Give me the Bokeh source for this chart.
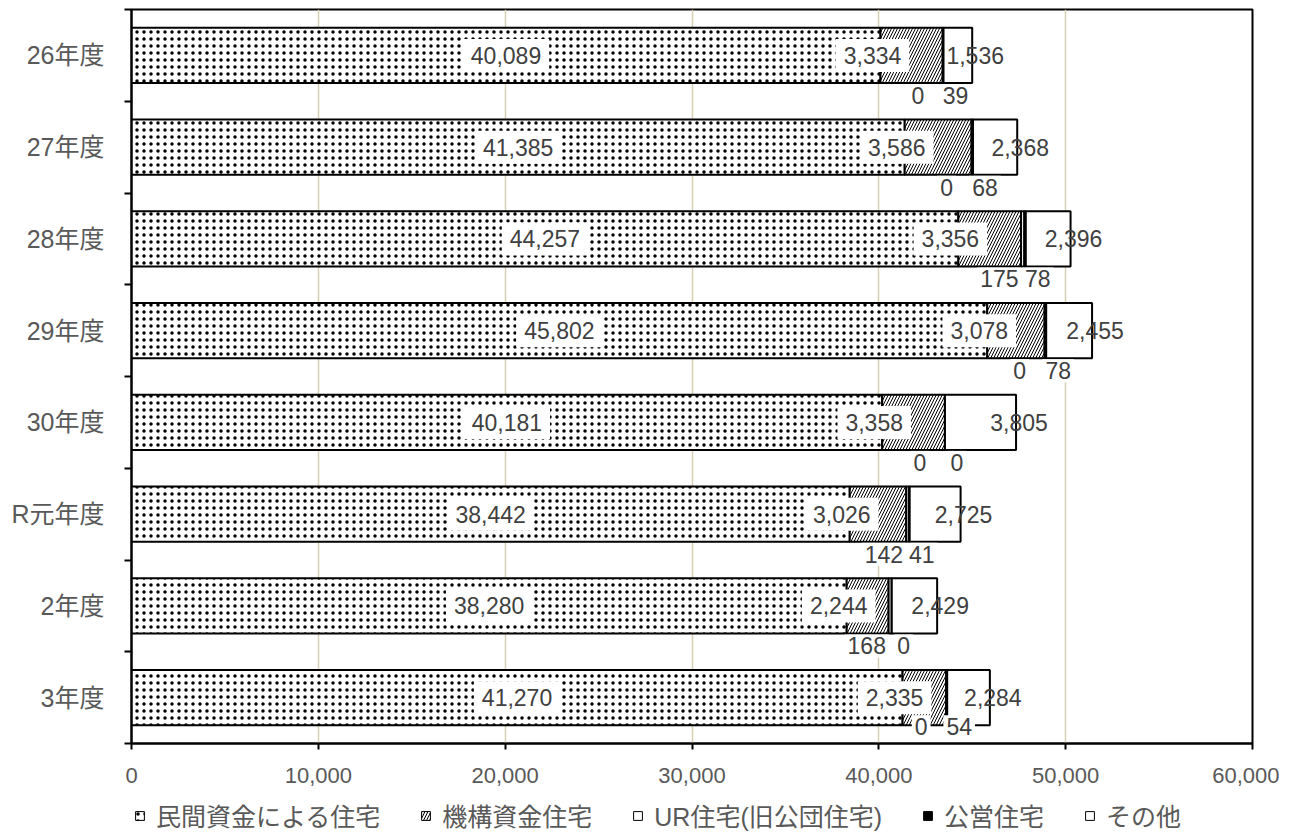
from bokeh.plotting import figure
from bokeh.models import (ColumnDataSource, FixedTicker, NumeralTickFormatter,
                          Legend, LegendItem, Range1d)
from bokeh.layouts import column
from bokeh.core.properties import value
from bokeh.embed import file_html
from bokeh.resources import INLINE

categories = ["26年度", "27年度", "28年度", "29年度", "30年度", "R元年度", "2年度", "3年度"]
minkan = [40089, 41385, 44257, 45802, 40181, 38442, 38280, 41270]
kikou = [3334, 3586, 3356, 3078, 3358, 3026, 2244, 2335]
ur = [0, 0, 175, 0, 0, 142, 168, 0]
kouei = [39, 68, 78, 78, 0, 41, 0, 54]
sonota = [1536, 2368, 2396, 2455, 3805, 2725, 2429, 2284]
series_names = ["民間資金による住宅", "機構資金住宅", "UR住宅(旧公団住宅)", "公営住宅", "その他"]
x_ticks = [0, 10000, 20000, 30000, 40000, 50000, 60000]

n = len(categories)
ys = [n - 1 - i + 0.5 for i in range(n)]
bounds = list(range(n + 1))

series = [minkan, kikou, ur, kouei, sonota]
cum = [[0] * n]
for s in series:
    cum.append([a + b for a, b in zip(cum[-1], s)])

NUM_FONT = "Liberation Sans, Noto Sans CJK JP"
LABEL_COLOR = "#404040"
AXIS_COLOR = "#595959"

W = 1279
MAIN_H = 792
LEG_H = 42

p = figure(width=W, height=MAIN_H, output_backend="svg", toolbar_location=None,
           x_range=Range1d(0, 60000), y_range=Range1d(0, n),
           min_border_left=131, min_border_right=27, min_border_top=9,
           min_border_bottom=MAIN_H - 743)
p.background_fill_color = "white"
p.border_fill_color = "white"
p.outline_line_color = "black"
p.outline_line_width = 2

styles = [
    dict(fill_color="white", hatch_pattern="dot", hatch_color="black", hatch_scale=7),
    dict(fill_color="white", hatch_pattern="right_diagonal_line", hatch_color="black",
         hatch_scale=6, hatch_weight=1),
    dict(fill_color="white"),
    dict(fill_color="black"),
    dict(fill_color="white"),
]

for k, s in enumerate(series):
    src = ColumnDataSource(dict(y=ys, left=cum[k], right=cum[k + 1]))
    p.hbar(y="y", left="left", right="right", height=0.6, source=src,
           line_color="black", line_width=2, **styles[k])

def fmt(vals):
    return [f"{v:,}" for v in vals]

common = dict(text_align="center", text_baseline="middle",
              text_font=value(NUM_FONT), text_font_size="23px", text_color=LABEL_COLOR)

# labels under the bar sit 40px below its centre; the last one is pulled up to stay inside the plot
below_off = [40 if i < n - 1 else 29 for i in range(n)]

# 民間 labels (centre of segment)
src = ColumnDataSource(dict(x=[(a + b) / 2 for a, b in zip(cum[0], cum[1])], y=ys, t=fmt(minkan)))
p.text(x="x", y="y", text="t", source=src, background_fill_color="white", padding=8, **common)
# 機構 labels
src = ColumnDataSource(dict(x=cum[1], y=ys, t=fmt(kikou)))
p.text(x="x", y="y", text="t", source=src, x_offset=-8, background_fill_color="white", padding=8, **common)
# UR labels (below bar)
src = ColumnDataSource(dict(x=cum[3], y=ys, t=fmt(ur), dy=below_off))
p.text(x="x", y="y", text="t", source=src, x_offset=-25, y_offset="dy", background_fill_color="white", padding=3, **common)
# 公営 labels (below bar)
src = ColumnDataSource(dict(x=cum[4], y=ys, t=fmt(kouei), dy=below_off))
p.text(x="x", y="y", text="t", source=src, x_offset=12, y_offset="dy", background_fill_color="white", padding=3, **common)
# その他 labels
src = ColumnDataSource(dict(x=cum[5], y=ys, t=fmt(sonota)))
p.text(x="x", y="y", text="t", source=src, x_offset=3, **common)

# x axis
p.xaxis.ticker = FixedTicker(ticks=x_ticks)
p.xaxis.formatter = NumeralTickFormatter(format="0,0")
p.xaxis.major_label_text_font = NUM_FONT
p.xaxis.major_label_text_font_size = "22px"
p.xaxis.major_label_text_color = AXIS_COLOR
p.xaxis.axis_line_color = "black"
p.xaxis.axis_line_width = 2
p.xaxis.major_tick_line_color = "black"
p.xaxis.major_tick_line_width = 2
p.xaxis.major_tick_out = 6
p.xaxis.major_tick_in = 0
p.xaxis.minor_tick_line_color = None
p.xaxis.major_label_standoff = 18

# y axis
p.yaxis.ticker = FixedTicker(ticks=ys, minor_ticks=bounds)
p.yaxis.major_label_overrides = {y: c for y, c in zip(ys, categories)}
p.yaxis.major_label_text_font = NUM_FONT
p.yaxis.major_label_text_font_size = "25px"
p.yaxis.major_label_text_color = AXIS_COLOR
p.yaxis.axis_line_color = "black"
p.yaxis.axis_line_width = 2
p.yaxis.major_tick_line_color = None
p.yaxis.major_tick_out = 0
p.yaxis.major_tick_in = 0
p.yaxis.minor_tick_line_color = "black"
p.yaxis.minor_tick_line_width = 2
p.yaxis.minor_tick_out = 7
p.yaxis.minor_tick_in = 0
p.yaxis.major_label_standoff = 20

p.xgrid.grid_line_color = "#d6d0b2"
p.xgrid.grid_line_width = 1.5
p.ygrid.grid_line_color = None

# legend strip (separate figure under the chart; swatch glyphs lie outside its visible range)
lf = figure(width=W, height=LEG_H, output_backend="svg", toolbar_location=None,
            x_range=Range1d(0, 1), y_range=Range1d(0, 1),
            x_axis_type=None, y_axis_type=None, min_border=0)
lf.outline_line_color = None
lf.grid.grid_line_color = None
leg_renderers = []
for k in range(len(series)):
    r = lf.hbar(y=[-5], left=[0], right=[0], height=0.1, line_color="black", line_width=1, **styles[k])
    leg_renderers.append(r)

legend = Legend(items=[LegendItem(label=nm, renderers=[r]) for nm, r in zip(series_names, leg_renderers)],
                orientation="horizontal", location=(3, 1),
                glyph_width=11, glyph_height=11, label_standoff=11, spacing=40,
                padding=0, margin=0, border_line_color=None, background_fill_alpha=0,
                label_text_font=NUM_FONT, label_text_font_size="25px",
                label_text_color=AXIS_COLOR)
lf.add_layout(legend)

open("out.html", "w").write(file_html(column(p, lf, spacing=0), INLINE))
